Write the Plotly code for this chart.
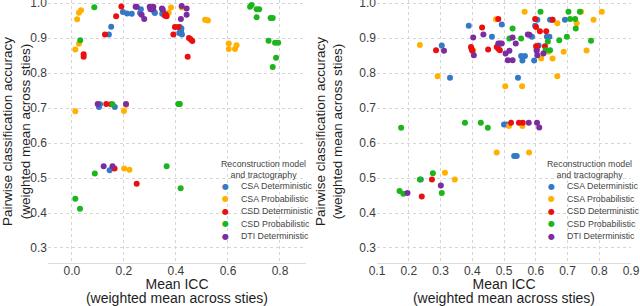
import plotly.graph_objects as go

# ---------------- data ----------------
groups = ["CSA Deterministic", "CSA Probabilistic", "CSD Deterministic",
          "CSD Probabilistic", "DTI Deterministic"]
colors = ["#3479c8", "#ffb000", "#ea1010", "#1cb51c", "#7b2c9e"]

# Left panel
left_csa_det_x = [0.142, 0.151, 0.196, 0.212, 0.230, 0.262, 0.265, 0.317, 0.319, 0.347, 0.351,
                  0.415, 0.418, 0.420, 0.423, 0.413, 0.421, 0.104, 0.108, 0.165, 0.145]
left_csa_det_y = [0.911, 0.933, 0.975, 0.971, 0.970, 0.972, 0.983, 0.975, 0.972, 0.970, 0.975,
                  0.932, 0.925, 0.918, 0.911, 0.915, 0.928, 0.703, 0.711, 0.703, 0.522]
left_csa_prob_x = [0.013, 0.027, 0.020, 0.027, 0.035, 0.013, 0.200, 0.208, 0.381, 0.372, 0.422,
                   0.512, 0.518, 0.523, 0.603, 0.603, 0.627, 0.633, 0.201, 0.221]
left_csa_prob_y = [0.868, 0.884, 0.954, 0.973, 0.980, 0.691, 0.692, 0.709, 0.988, 0.973, 0.988,
                   0.953, 0.952, 0.951, 0.885, 0.869, 0.869, 0.880, 0.527, 0.524]
left_csd_det_x = [0.045, 0.045, 0.127, 0.170, 0.190, 0.132, 0.150, 0.307, 0.357, 0.361, 0.364,
                  0.390, 0.396, 0.409, 0.450, 0.456, 0.463, 0.445, 0.164, 0.249]
left_csd_det_y = [0.854, 0.847, 0.911, 0.963, 0.991, 0.712, 0.711, 0.983, 0.965, 0.968, 0.963,
                  0.911, 0.932, 0.932, 0.901, 0.897, 0.892, 0.847, 0.527, 0.484]
left_csd_prob_x = [0.086, 0.032, 0.156, 0.409, 0.412, 0.415, 0.685, 0.691, 0.710, 0.720, 0.710,
                   0.764, 0.772, 0.756, 0.781, 0.793, 0.785, 0.772, 0.364, 0.418, 0.088, 0.013, 0.031]
left_csd_prob_y = [0.989, 0.894, 0.711, 0.712, 0.712, 0.712, 0.990, 0.995, 0.983, 0.983, 0.960,
                   0.958, 0.958, 0.893, 0.887, 0.887, 0.844, 0.818, 0.534, 0.471, 0.513, 0.441, 0.412]
left_dti_det_x = [0.099, 0.208, 0.245, 0.249, 0.268, 0.278, 0.299, 0.313, 0.302, 0.312, 0.346,
                  0.349, 0.422, 0.441, 0.441, 0.419, 0.122, 0.156]
left_dti_det_y = [0.712, 0.712, 0.990, 0.990, 0.967, 0.955, 0.990, 0.990, 0.983, 0.985, 0.985,
                  0.982, 0.992, 0.985, 0.967, 0.955, 0.534, 0.534]

# Right panel
right_csa_det_x = [0.389, 0.304, 0.330, 0.462, 0.493, 0.544, 0.554, 0.566, 0.558, 0.588, 0.595,
                   0.598, 0.605, 0.609, 0.635, 0.643, 0.645, 0.652, 0.692, 0.500, 0.508, 0.532,
                   0.540, 0.238]
right_csa_det_y = [0.936, 0.879, 0.787, 0.904, 0.939, 0.787, 0.849, 0.849, 0.836, 0.904, 0.836,
                   0.936, 0.953, 0.879, 0.904, 0.904, 0.953, 0.953, 0.953, 0.653, 0.653, 0.563,
                   0.563, 0.496]
right_csa_prob_x = [0.235, 0.291, 0.403, 0.475, 0.504, 0.565, 0.557, 0.640, 0.617, 0.653, 0.668,
                    0.668, 0.688, 0.729, 0.743, 0.760, 0.782, 0.808, 0.477, 0.579, 0.516, 0.558,
                    0.314, 0.345]
right_csa_prob_y = [0.881, 0.791, 0.865, 0.954, 0.763, 0.976, 0.763, 0.861, 0.842, 0.842, 0.943,
                    0.791, 0.861, 0.943, 0.976, 0.865, 0.953, 0.976, 0.573, 0.573, 0.649, 0.649,
                    0.515, 0.496]
right_csd_det_x = [0.286, 0.396, 0.398, 0.400, 0.431, 0.450, 0.477, 0.482, 0.487, 0.482, 0.598,
                   0.601, 0.601, 0.605, 0.603, 0.613, 0.633, 0.629, 0.653, 0.522, 0.547, 0.559,
                   0.273, 0.241]
right_csd_det_y = [0.866, 0.875, 0.869, 0.864, 0.931, 0.868, 0.875, 0.870, 0.866, 0.955, 0.955,
                   0.932, 0.877, 0.877, 0.868, 0.920, 0.920, 0.877, 0.953, 0.658, 0.658, 0.658,
                   0.496, 0.447]
right_csd_prob_x = [0.176, 0.377, 0.427, 0.449, 0.517, 0.527, 0.554, 0.615, 0.631, 0.645, 0.638,
                    0.674, 0.698, 0.703, 0.708, 0.724, 0.726, 0.739, 0.774, 0.276, 0.235, 0.304,
                    0.171, 0.183]
right_csd_prob_y = [0.644, 0.658, 0.658, 0.644, 0.899, 0.928, 0.899, 0.976, 0.866, 0.866, 0.891,
                    0.894, 0.904, 0.976, 0.955, 0.955, 0.928, 0.976, 0.893, 0.514, 0.496, 0.457,
                    0.463, 0.455]
right_dti_det_x = [0.311, 0.403, 0.405, 0.435, 0.482, 0.487, 0.493, 0.505, 0.512, 0.517, 0.527,
                   0.527, 0.537, 0.575, 0.580, 0.603, 0.605, 0.624, 0.578, 0.604, 0.611, 0.301,
                   0.196]
right_dti_det_y = [0.864, 0.902, 0.851, 0.911, 0.885, 0.885, 0.885, 0.856, 0.837, 0.864, 0.902,
                   0.837, 0.885, 0.911, 0.910, 0.864, 0.851, 0.856, 0.658, 0.658, 0.645, 0.479,
                   0.457]

left_x_ticks = [0.0, 0.2, 0.4, 0.6, 0.8]
right_x_ticks = [0.1, 0.2, 0.3, 0.4, 0.5, 0.6, 0.7, 0.8, 0.9]
y_ticks = [0.3, 0.4, 0.5, 0.6, 0.7, 0.8, 0.9, 1.0]

x_title_lines = ["Mean ICC", "(weighted mean across sties)"]
y_title = "Pairwise classification accuracy<br>(weighted mean across sties)"
legend_title = "Reconstruction model<br>and tractography"

left_data = [(left_csa_det_x, left_csa_det_y), (left_csa_prob_x, left_csa_prob_y),
             (left_csd_det_x, left_csd_det_y), (left_csd_prob_x, left_csd_prob_y),
             (left_dti_det_x, left_dti_det_y)]
right_data = [(right_csa_det_x, right_csa_det_y), (right_csa_prob_x, right_csa_prob_y),
              (right_csd_det_x, right_csd_det_y), (right_csd_prob_x, right_csd_prob_y),
              (right_dti_det_x, right_dti_det_y)]

# ---------------- figure ----------------
FONT = "Liberation Sans, Arial, sans-serif"
W, H = 640, 306
ML, MR, MT, MB = 48, 9, 0, 43
PW, PH = W - ML - MR, H - MT - MB

fig = go.Figure()
for (xs, ys), name, col in zip(left_data, groups, colors):
    fig.add_trace(go.Scatter(x=xs, y=ys, mode="markers", name=name, showlegend=False,
                             marker=dict(color=col, size=6), cliponaxis=False,
                             xaxis="x", yaxis="y"))
for (xs, ys), name, col in zip(right_data, groups, colors):
    fig.add_trace(go.Scatter(x=xs, y=ys, mode="markers", name=name, showlegend=False,
                             marker=dict(color=col, size=6), cliponaxis=False,
                             xaxis="x2", yaxis="y2"))

def px2paper_x(px):
    return (px - ML) / PW

def px2paper_y(py):
    return (MT + PH - py) / PH

grid = dict(showgrid=True, gridcolor="#d6d6d6", gridwidth=1, griddash="3px,3px",
            zeroline=False, ticks="", automargin=False, ticklabeloverflow="allow",
            tickfont=dict(family=FONT, size=12, color="#3c3c3c"))
title_font = dict(family=FONT, size=13.5, color="#1e1e1e")
# x title: small base size gives the tight line spacing of the reference,
# each line rendered at 14px
x_title_font = dict(family=FONT, size=11, color="#1e1e1e")
x_title = "<br>".join('<span style="font-size:14px">%s</span>' % t for t in x_title_lines)

left_dom = [0.0, px2paper_x(306)]
right_dom = [px2paper_x(377), 1.0]

fig.update_layout(
    width=W, height=H, margin=dict(l=ML, r=MR, t=MT, b=MB),
    paper_bgcolor="white", plot_bgcolor="white", showlegend=False,
    font=dict(family=FONT),
    xaxis=dict(domain=left_dom, range=[-0.092, 0.9], tickvals=left_x_ticks,
               tickformat=".1f", anchor="y", showline=True, linecolor="#dcdcdc",
               ticklabelstandoff=-3,
               title=dict(text=x_title, font=x_title_font, standoff=7), **grid),
    yaxis=dict(domain=[0, 1], range=[0.257, 1.0094], tickvals=y_ticks, tickformat=".1f",
               anchor="x", title=dict(text=y_title, font=title_font, standoff=9), **grid),
    xaxis2=dict(domain=right_dom, range=[0.1, 0.9], tickvals=right_x_ticks,
                tickformat=".1f", anchor="y2", showline=True, linecolor="#dcdcdc",
                ticklabelstandoff=-3,
                title=dict(text=x_title, font=x_title_font, standoff=7), **grid),
    yaxis2=dict(domain=[0, 1], range=[0.257, 1.0094], tickvals=y_ticks, tickformat=".1f",
                anchor="x2", title=dict(text=y_title, font=title_font, standoff=13), **grid),
)

# legends drawn as annotations (compact spacing like the reference)
leg_font = dict(family=FONT, size=8.8, color="#444444")
for title_cx, marker_x, text_x in [(263, 225, 239), (589, 551, 565)]:
    fig.add_annotation(x=px2paper_x(title_cx), y=px2paper_y(169), xref="paper", yref="paper",
                       text=legend_title, showarrow=False, font=leg_font,
                       xanchor="center", yanchor="middle", align="center")
    for i, (name, col) in enumerate(zip(groups, colors)):
        py = 186 + i * 12.5
        fig.add_annotation(x=px2paper_x(marker_x), y=px2paper_y(py), xref="paper", yref="paper",
                           text="●", showarrow=False, font=dict(family="DejaVu Sans", size=8, color=col),
                           xanchor="center", yanchor="middle")
        fig.add_annotation(x=px2paper_x(text_x), y=px2paper_y(py), xref="paper", yref="paper",
                           text=name, showarrow=False, font=leg_font,
                           xanchor="left", yanchor="middle")

fig.write_html("out.html", config={"displayModeBar": False},
               post_script="document.body.style.margin='0';document.body.style.padding='0';"
                           "document.body.style.overflow='hidden';")
